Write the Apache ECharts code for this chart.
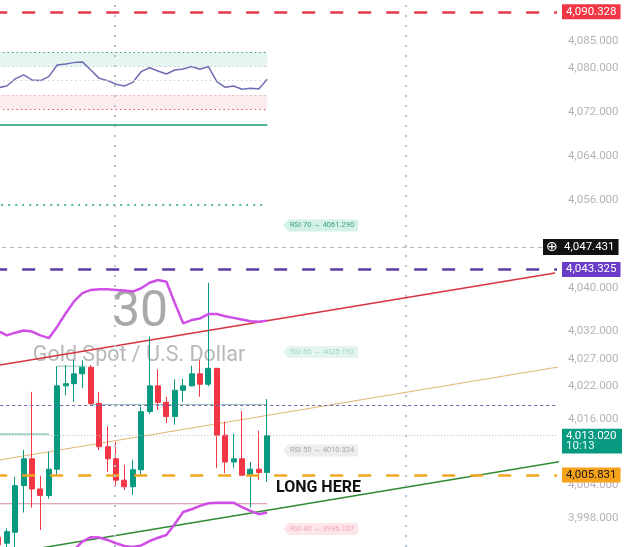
<!DOCTYPE html>
<html>
<head>
<meta charset="utf-8">
<script src="https://cdn.jsdelivr.net/npm/echarts@6/dist/echarts.min.js"></script>
<style>
html, body { margin: 0; padding: 0; background: #fff; }
#main { width: 625px; height: 547px; }
</style>
</head>
<body>
<div id="main"></div>
<script>
// 30 min candles, slot index only (no time axis visible)
var slots = [];
for (var i = 0; i < 67; i++) slots.push(String(i));

// [open, close, low, high]
var candles = [
    [3994.5, 3993.1, 3992.0, 3995.2],
    [3993.4, 3995.5, 3992.0, 3996.1],
    [3995.4, 4003.9, 3992.5, 4005.5],
    [4003.9, 4008.8, 3999.0, 4010.4],
    [4008.8, 4003.3, 3999.9, 4021.0],
    [4003.3, 4002.1, 3995.8, 4005.7],
    [4002.1, 4006.9, 4001.5, 4010.1],
    [4006.9, 4022.1, 4005.8, 4025.7],
    [4022.1, 4022.5, 4020.4, 4025.9],
    [4022.5, 4024.3, 4019.2, 4026.8],
    [4024.3, 4025.5, 4021.7, 4026.8],
    [4025.5, 4018.9, 4018.6, 4025.9],
    [4018.9, 4011.0, 4010.4, 4021.0],
    [4011.0, 4008.8, 4006.4, 4014.7],
    [4008.8, 4004.9, 4004.0, 4011.9],
    [4004.9, 4003.7, 4003.1, 4007.7],
    [4003.7, 4006.8, 4002.2, 4008.6],
    [4006.8, 4017.4, 4005.8, 4018.3],
    [4017.4, 4022.1, 4017.0, 4031.1],
    [4022.1, 4019.1, 4017.7, 4025.1],
    [4019.1, 4016.5, 4015.3, 4020.1],
    [4016.5, 4021.3, 4015.0, 4023.3],
    [4021.3, 4022.1, 4019.2, 4023.4],
    [4022.1, 4024.3, 4022.0, 4025.8],
    [4024.3, 4022.4, 4020.1, 4026.8],
    [4022.4, 4025.3, 4022.0, 4040.9],
    [4025.3, 4013.1, 4007.1, 4025.3],
    [4013.1, 4008.2, 4006.2, 4015.6],
    [4008.2, 4008.8, 4007.1, 4013.4],
    [4008.8, 4005.8, 4005.8, 4017.5],
    [4005.8, 4006.9, 3999.9, 4008.2],
    [4006.9, 4006.3, 4004.9, 4013.9],
    [4006.3, 4013.02, 4004.6, 4019.7]
];

var upperBand = [4032.1, 4031.3, 4031.8, 4032.2, 4032.0, 4031.3, 4030.8, 4032.9, 4035.3, 4037.5,
    4039.0, 4039.6, 4039.7, 4039.7, 4039.6, 4039.5, 4039.3, 4039.9, 4040.9, 4041.4,
    4041.1, 4037.2, 4033.5, 4034.1, 4034.4, 4035.2, 4035.2, 4034.8, 4034.5, 4034.2,
    4033.9, 4033.8, 4034.0];
var lowerBand = [null, null, null, null, null, null, null, null, null, 3992.2,
    3993.7, 3994.5, 3994.45, 3994.0, 3993.4, 3992.9, 3992.7, 3993.0, 3993.8, 3994.4,
    3994.9, 3996.9, 3999.1, 3999.6, 4000.2, 4000.7, 4000.8, 4000.8, 4000.8, 4000.0,
    3999.3, 3998.7, 3999.0];

var rsi = [45.0, 46.2, 51.2, 54.0, 50.5, 50.0, 52.8, 61.0, 61.7, 62.7,
    63.2, 57.5, 51.6, 50.0, 47.4, 46.2, 48.8, 56.3, 59.1, 56.8,
    54.7, 57.5, 58.2, 59.9, 58.0, 59.9, 49.3, 45.3, 46.2, 43.9,
    44.6, 44.1, 50.9];
var rsiLevels = [70, 60, 50, 40, 30];
var rsiBase = 19;

var priceTicks = [4085, 4080, 4072, 4064, 4056, 4040, 4032, 4027, 4022, 4016, 4004, 3998];

var levelRed = 4090.328;
var levelCross = 4047.431;
var levelPurple = 4043.325;
var lastPrice = 4013.020;
var timeLeft = '10:13';
var levelOrange = 4005.831;
var levelArrow = 4018.6;

// trend lines as [slot, price]
var channelRed = [[0.19, 4025.9], [66.26, 4042.7]];
var channelTan = [[0.19, 4008.6], [66.86, 4025.6]];
var channelGreen = [[3.76, 3992.2], [66.86, 4008.3]];
var supportPink = [[-0.5, 4000.6], [32, 4000.6]];
var tealLow = [[-0.5, 4013.3], [6, 4013.3]];
var tealHigh = [[7, 4025.7], [10.5, 4025.7]];
var tealMid = [[11, 4018.7], [32, 4018.7]];
var dotGreen = [[-0.5, 4055.1], [32, 4055.1]];
var sessionBreaks = [13.88, 48.52];

var rsiTags = [
    { text: 'RSI 70 → 4061.290', y: 225.5, bg: '#d4f1e8', fg: '#3f9f86' },
    { text: 'RSI 60 → 4025.193', y: 352, bg: '#e4f5ef', fg: '#a3d5c5' },
    { text: 'RSI 50 → 4010.324', y: 450.5, bg: '#ededed', fg: '#a9a9a9' },
    { text: 'RSI 40 → 3996.107', y: 529, bg: '#fde6ea', fg: '#f0a6b3' }
];

function fmt(v) {
    var p = v.toFixed(3).split('.');
    return p[0].replace(/\B(?=(\d{3})+(?!\d))/g, ',') + '.' + p[1];
}

var FONT = 'Roboto, "Liberation Sans", sans-serif';

function tag(value, bg, fg) {
    return {
        show: true, position: 'end', distance: 5,
        formatter: fmt(value),
        backgroundColor: bg, color: fg, padding: [2, 4, 1, 4],
        fontSize: 11.5, fontFamily: FONT
    };
}

function seg(data, color, width, type, z) {
    return {
        type: 'line', xAxisIndex: 1, yAxisIndex: 0, data: data,
        showSymbol: false, silent: true, z: z || 2,
        lineStyle: { color: color, width: width, type: type || 'solid' }
    };
}

var chart = echarts.init(document.getElementById('main'));

var graphics = [
    { type: 'text', x: 140, y: 313, z: 0, style: { text: '30', fontSize: 50, fontFamily: FONT, fill: '#a9a9a9', align: 'center', verticalAlign: 'middle' } },
    { type: 'text', x: 139, y: 356, z: 0, style: { text: 'Gold Spot / U.S. Dollar', fontSize: 21.5, fontFamily: FONT, fill: 'rgba(165,165,165,0.8)', align: 'center', verticalAlign: 'middle' } },
    { type: 'text', x: 276, y: 488, z: 100, style: { text: 'LONG HERE', fontSize: 16, fontWeight: 'bold', fontFamily: FONT, fill: '#111', align: 'left', verticalAlign: 'middle' } }
];
rsiTags.forEach(function (t) {
    graphics.push({ type: 'polygon', z: 100, shape: { points: [[283, t.y], [288, t.y - 5], [288, t.y + 5]] }, style: { fill: t.bg } });
    graphics.push({ type: 'text', x: 287, y: t.y, z: 100, style: { text: t.text, fontSize: 7.5, fontFamily: FONT, fill: t.fg, backgroundColor: t.bg, padding: [2, 4, 2, 3], borderRadius: 2, align: 'left', verticalAlign: 'middle' } });
});

option = {
    animation: false,
    backgroundColor: '#fff',
    grid: [
        { left: -5.8, right: 68, top: 0, bottom: 0, outerBoundsMode: 'none' },
        { left: -5.8, right: 68, top: 38.1, height: 99.2, outerBoundsMode: 'none' }
    ],
    xAxis: [
        { type: 'category', gridIndex: 0, data: slots, show: false },
        { type: 'value', gridIndex: 0, min: -0.5, max: 66.5, show: false },
        { type: 'category', gridIndex: 1, data: slots, show: false }
    ],
    yAxis: [{
        type: 'value', gridIndex: 0, position: 'right',
        min: 3992.71, max: 4092.48, scale: true,
        axisLine: { show: false }, axisTick: { show: false }, splitLine: { show: false },
        axisLabel: {
            customValues: priceTicks, formatter: fmt, margin: 11,
            color: '#b4b4b4', fontSize: 11.5, fontFamily: FONT
        }
    }, {
        type: 'value', gridIndex: 1, min: 10, max: 80, show: false
    }],
    graphic: graphics,
    series: [
        {
            type: 'candlestick', xAxisIndex: 0, yAxisIndex: 0, z: 3,
            data: candles, barWidth: 5.5,
            itemStyle: {
                color: '#089981', color0: '#f23645',
                borderColor: '#089981', borderColor0: '#f23645', borderWidth: 1
            },
            markLine: {
                silent: true, symbol: 'none', animation: false,
                data: [
                    { yAxis: levelRed, lineStyle: { color: '#e6394c', width: 2.5, type: [13, 15] }, label: tag(levelRed, '#f23645', '#fff') },
                    {
                        yAxis: levelCross, lineStyle: { color: '#b8b8b8', width: 1, type: [4, 4] },
                        label: {
                            show: true, position: 'end', distance: -14,
                            formatter: '{i|⊕}{v|' + fmt(levelCross) + '}',
                            backgroundColor: '#111', padding: [1, 4, 1, 2],
                            rich: {
                                i: { color: '#fff', fontSize: 14, padding: [0, 6, 0, 1] },
                                v: { color: '#fff', fontSize: 11.5, fontFamily: FONT }
                            }
                        }
                    },
                    { yAxis: levelPurple, lineStyle: { color: '#5b3ca6', width: 2.5, type: [13, 15] }, label: tag(levelPurple, '#6a3dc8', '#fff') },
                    { yAxis: levelArrow, symbol: ['none', 'triangle'], symbolSize: [8, 9], symbolRotate: [0, -90], lineStyle: { color: '#6c64aa', width: 1, type: [3, 3] }, label: { show: false } },
                    { yAxis: lastPrice, lineStyle: { color: '#b8b8b8', width: 1, type: [1, 2] }, label: Object.assign(tag(lastPrice, '#089981', '#fff'), { width: 52, padding: [2, 4, 0, 4] }) },
                    {
                        yAxis: lastPrice - 2.0, lineStyle: { color: 'rgba(0,0,0,0)', width: 0 },
                        label: { show: true, position: 'end', distance: 5, formatter: timeLeft, width: 52, backgroundColor: '#089981', color: '#e8fff8', padding: [0, 4, 2, 4], fontSize: 11.5, fontFamily: FONT }
                    },
                    { yAxis: levelOrange, lineStyle: { color: '#f2a51e', width: 2.5, type: [13, 15] }, label: tag(levelOrange, '#f7a21b', '#161616') }
                ]
            }
        },
        {
            type: 'line', xAxisIndex: 0, yAxisIndex: 0, data: upperBand, showSymbol: false, silent: true, z: 4,
            lineStyle: { color: '#cf4fe6', width: 2.5 }
        },
        {
            type: 'line', xAxisIndex: 0, yAxisIndex: 0, data: lowerBand, showSymbol: false, silent: true, z: 4,
            lineStyle: { color: '#cf4fe6', width: 2.5 }
        },
        seg(channelRed, '#d8323f', 1.5),
        seg(channelTan, '#e2b36e', 1),
        seg(channelGreen, '#2f8a2f', 1.5),
        seg(supportPink, '#d98d9a', 1),
        seg(tealLow, '#8ccbbd', 1.5),
        seg(tealHigh, '#8ccbbd', 1),
        seg(tealMid, '#93c6bc', 1),
        seg(dotGreen, '#1f9f7a', 1.5, [2, 5]),
        {
            type: 'line', xAxisIndex: 1, yAxisIndex: 0, data: [], silent: true,
            markLine: {
                silent: true, symbol: 'none', animation: false, label: { show: false },
                lineStyle: { color: '#b3bfcc', width: 2, type: [2, 8] },
                data: sessionBreaks.map(function (x) { return { xAxis: x }; })
            }
        },
        {
            type: 'line', xAxisIndex: 2, yAxisIndex: 1, data: rsi, showSymbol: false, silent: true, z: 4,
            lineStyle: { color: '#6e6db3', width: 1.5 },
            markArea: {
                silent: true,
                data: [
                    [{ coord: [0, 60], itemStyle: { color: '#e5f6f0' } }, { coord: [32, 70] }],
                    [{ coord: [0, 30], itemStyle: { color: '#fdecee' } }, { coord: [32, 40] }]
                ]
            },
            markLine: {
                silent: true, symbol: 'none', animation: false, label: { show: false },
                data: rsiLevels.map(function (v, k) {
                    var c = ['#2e9e7e', '#c9c6dc', '#cfcfd8', '#e3b3bd', '#e35566'][k];
                    return [{ coord: [0, v], lineStyle: { color: c, width: 1.2, type: [1.5, 3] } }, { coord: [32, v] }];
                }).concat([[{ coord: [0, rsiBase], lineStyle: { color: '#1a9a70', width: 1.5, type: 'solid' } }, { coord: [32, rsiBase] }]])
            }
        }
    ]
};
chart.setOption(option);
</script>
</body>
</html>
